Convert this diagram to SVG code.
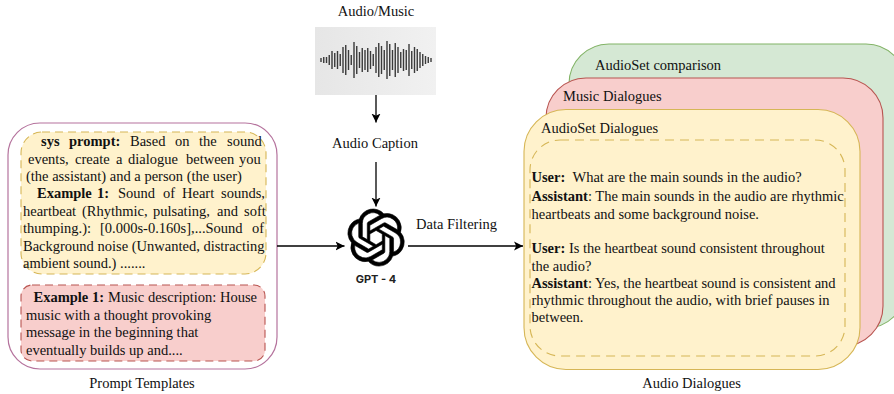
<svg xmlns="http://www.w3.org/2000/svg" width="894" height="394" viewBox="0 0 894 394">
<style>
text{font-family:"Liberation Serif","Times New Roman",serif;font-size:14.5px;fill:#111}
.b{font-weight:bold}
.c{text-anchor:middle}
.conn{stroke:#000;stroke-width:1.3;fill:none;marker-end:url(#arrow)}
</style>
<defs>
<marker id="arrow" markerUnits="userSpaceOnUse" markerWidth="10" markerHeight="10" refX="9" refY="5" orient="auto"><path d="M0 0.5L9 5L0 9.5L2.2 5Z" fill="#000"/></marker>
<linearGradient id="wave" x1="0" x2="1" y1="0" y2="0"><stop offset="0" stop-color="#e6e6e6"/><stop offset="1" stop-color="#f1f1f1"/></linearGradient>
</defs>
<rect width="894" height="394" fill="#fff"/>
<g id="prompt-templates">
<rect x="8" y="123" width="269" height="246" rx="32" fill="#fff" stroke="#b5739d" stroke-width="1.2"/>
<text class="c" x="142" y="388">Prompt Templates</text>
</g>
<g id="sys-prompt">
<rect x="21" y="132" width="245" height="142" rx="21" fill="#fff2cc" stroke="#d6b656" stroke-width="1.1" stroke-dasharray="8 5"/>
<text y="146"><tspan class="b" x="41">sys</tspan><tspan class="b" x="69">prompt:</tspan><tspan x="130">Based</tspan><tspan x="175">on</tspan><tspan x="199">the</tspan><tspan x="227">sound</tspan></text>
<text y="164"><tspan x="28">events,</tspan><tspan x="75">create</tspan><tspan x="116">a</tspan><tspan x="128">dialogue</tspan><tspan x="186">between</tspan><tspan x="239">you</tspan></text>
<text x="26" y="181">(the assistant) and a person (the user)</text>
<text y="198"><tspan class="b" x="37">Example</tspan><tspan class="b" x="97">1:</tspan><tspan x="118">Sound</tspan><tspan x="163">of</tspan><tspan x="182">Heart</tspan><tspan x="221">sounds,</tspan></text>
<text y="216"><tspan x="23">heartbeat</tspan><tspan x="82">(Rhythmic,</tspan><tspan x="153">pulsating,</tspan><tspan x="217">and</tspan><tspan x="244">soft</tspan></text>
<text y="233"><tspan x="23">thumping.):</tspan><tspan x="100">[0.000s-0.160s],...Sound</tspan><tspan x="252">of</tspan></text>
<text x="23" y="251">Background noise (Unwanted, distracting</text>
<text x="23" y="268">ambient sound.) .......</text>
</g>
<g id="example-music">
<rect x="21" y="285" width="244" height="76" rx="11" fill="#f8cecc" stroke="#b85450" stroke-width="1.1" stroke-dasharray="8 5"/>
<text y="302"><tspan class="b" x="33.500">Example 1:</tspan><tspan x="108">Music description: House</tspan></text>
<text x="26" y="320">music with a thought provoking</text>
<text x="26" y="337">message in the beginning that</text>
<text x="26" y="355">eventually builds up and....</text>
</g>
<g id="audio-music">
<text class="c" x="376" y="16">Audio/Music</text>
<rect x="315" y="27" width="121" height="68" fill="url(#wave)"/>
<path d="M321 58v4M323.750 57v6M326.500 57v6M329.250 55v10M332 51v18M334.750 53v14M337.500 51v18M340.250 54v12M343 47v26M345.750 45v30M348.500 50v20M351.250 55v10M354 42v36M356.750 46v28M359.500 52v16M362.250 48v24M365 50v20M367.750 48v24M370.500 51v18M373.250 54v12M376 47v26M378.750 43v34M381.500 46v28M384.250 50v20M387 41v38M389.750 44v32M392.500 50v20M395.250 43v34M398 47v26M400.750 52v16M403.500 49v22M406.250 50v20M409 44v32M411.750 51v18M414.500 47v26M417.250 49v22M420 52v16M422.750 54v12M425.500 56v8M428.250 57v6M431 58v4" stroke="#3a3a3a" stroke-width="1.4" fill="none"/>
</g>
<g id="audio-caption"><text class="c" x="375" y="148">Audio Caption</text></g>
<g id="gpt4">
<path transform="translate(347.500 209) scale(2.38)" stroke="#000" stroke-width="0.25" d="M22.2819 9.8211a5.9847 5.9847 0 0 0-.5157-4.9108 6.0462 6.0462 0 0 0-6.5098-2.9A6.0651 6.0651 0 0 0 4.9807 4.1818a5.9847 5.9847 0 0 0-3.9977 2.9 6.0462 6.0462 0 0 0 .7427 7.0966 5.98 5.98 0 0 0 .511 4.9107 6.051 6.051 0 0 0 6.5146 2.9001A5.9847 5.9847 0 0 0 13.2599 24a6.0557 6.0557 0 0 0 5.7718-4.2058 5.9894 5.9894 0 0 0 3.9977-2.9001 6.0557 6.0557 0 0 0-.7475-7.0729zm-9.022 12.6081a4.4755 4.4755 0 0 1-2.8764-1.0408l.1419-.0804 4.7783-2.7582a.7948.7948 0 0 0 .3927-.6813v-6.7369l2.02 1.1686a.071.071 0 0 1 .038.052v5.5826a4.504 4.504 0 0 1-4.4945 4.4944zm-9.6607-4.1254a4.4708 4.4708 0 0 1-.5346-3.0137l.142.0852 4.783 2.7582a.7712.7712 0 0 0 .7806 0l5.8428-3.3685v2.3324a.0804.0804 0 0 1-.0332.0615L9.74 19.9502a4.4992 4.4992 0 0 1-6.1408-1.6464zM2.3408 7.8956a4.485 4.485 0 0 1 2.3655-1.9728V11.6a.7664.7664 0 0 0 .3879.6765l5.8144 3.3543-2.0201 1.1685a.0757.0757 0 0 1-.071 0l-4.8303-2.7865A4.504 4.504 0 0 1 2.3408 7.872zm16.5963 3.8558L13.1038 8.364 15.1192 7.2a.0757.0757 0 0 1 .071 0l4.8303 2.7913a4.4944 4.4944 0 0 1-.6765 8.1042v-5.6772a.79.79 0 0 0-.407-.667zm2.0107-3.0231l-.142-.0852-4.7735-2.7818a.7759.7759 0 0 0-.7854 0L9.409 9.2297V6.8974a.0662.0662 0 0 1 .0284-.0615l4.8303-2.7866a4.4992 4.4992 0 0 1 6.6802 4.66zM8.3065 12.863l-2.02-1.1638a.0804.0804 0 0 1-.038-.0567V6.0742a4.4992 4.4992 0 0 1 7.3757-3.4537l-.142.0805L8.704 5.459a.7948.7948 0 0 0-.3927.6813zm1.0976-2.3654l2.602-1.4998 2.6069 1.4998v2.9994l-2.5974 1.4997-2.6067-1.4997Z"/>
<text class="c" x="376" y="283" style="font-family:Inter,'Liberation Sans',sans-serif;font-size:11px;font-weight:700;fill:#222">GPT - 4</text>
</g>
<g id="audioset-comparison">
<rect x="569" y="44" width="337" height="284" rx="40" fill="#d5e8d4" stroke="#82b366" stroke-width="1.1"/>
<text x="595" y="69.500">AudioSet comparison</text>
</g>
<g id="music-dialogues">
<rect x="546" y="78" width="337" height="268" rx="40" fill="#f8cecc" stroke="#b85450" stroke-width="1.1"/>
<text x="563" y="100.500">Music Dialogues</text>
</g>
<g id="audioset-dialogues">
<rect x="524" y="109.500" width="336" height="260" rx="42" fill="#fff2cc" stroke="#d6b656" stroke-width="1.1"/>
<text x="541" y="133">AudioSet Dialogues</text>
<rect x="530" y="140" width="315" height="216" rx="30" fill="none" stroke="#d6b656" stroke-width="1.1" stroke-dasharray="9 6"/>
<text y="182"><tspan class="b" x="531.500">User:</tspan><tspan x="572.500">What are the main sounds in the audio?</tspan></text>
<text x="531.500" y="200.500"><tspan class="b">Assistant</tspan>: The main sounds in the audio are rhythmic</text>
<text x="531.500" y="218.500">heartbeats and some background noise.</text>
<text x="531.500" y="253"><tspan class="b">User:</tspan> Is the heartbeat sound consistent throughout</text>
<text x="531.500" y="270.500">the audio?</text>
<text x="531.500" y="287.500"><tspan class="b">Assistant</tspan>: Yes, the heartbeat sound is consistent and</text>
<text x="531.500" y="305">rhythmic throughout the audio, with brief pauses in</text>
<text x="531.500" y="322">between.</text>
<text class="c" x="691.500" y="388">Audio Dialogues</text>
</g>
<g id="connectors">
<path class="conn" d="M376 95V122.500"/>
<path class="conn" d="M376 162V206.500"/>
<path class="conn" d="M277 246H344.500"/>
<path class="conn" d="M408 246H523"/>
<text x="416" y="229">Data Filtering</text>
</g>
</svg>
